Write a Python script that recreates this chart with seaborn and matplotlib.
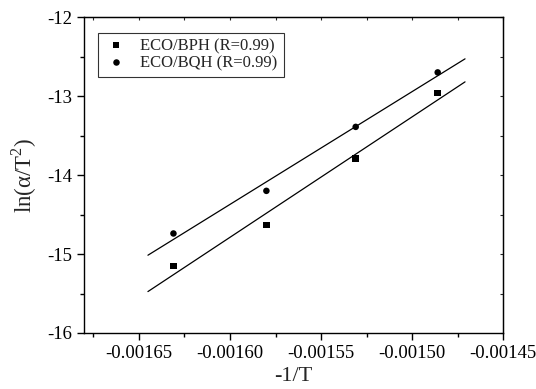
import numpy as np
import pandas as pd
import matplotlib
matplotlib.use("Agg")
import matplotlib.pyplot as plt
from matplotlib.ticker import MultipleLocator, FormatStrFormatter
import seaborn as sns

# data
inv_T = [-0.001631, -0.001580, -0.001531, -0.001486]
bph = [-15.15, -14.63, -13.79, -12.96]
bqh = [-14.74, -14.20, -13.39, -12.70]
labels = ["ECO/BPH (R=0.99)", "ECO/BQH (R=0.99)"]

df = pd.DataFrame({
    "x": inv_T * 2,
    "y": bph + bqh,
    "series": [labels[0]] * 4 + [labels[1]] * 4,
})

sns.set_style("ticks")
plt.rcParams["font.family"] = ["Liberation Serif", "DejaVu Serif"]
plt.rcParams["mathtext.fontset"] = "custom"
plt.rcParams["mathtext.rm"] = "Liberation Serif"
plt.rcParams["axes.unicode_minus"] = False

fig = plt.figure(figsize=(5.36, 3.89), dpi=100)
ax = fig.add_axes([0.157, 0.144, 0.782, 0.812])

sns.scatterplot(data=df, x="x", y="y", style="series", markers=["s", "o"],
                color="black", s=22, edgecolor="black", linewidth=0, ax=ax)

# linear fits
xfit = np.array([-0.001645, -0.001471])
for vals in (bph, bqh):
    k, b = np.polyfit(inv_T, vals, 1)
    ax.plot(xfit, k * xfit + b, color="black", lw=0.9)

ax.set_xlim(-0.00168, -0.00145)
ax.set_ylim(-16, -12)
ax.xaxis.set_major_locator(MultipleLocator(0.00005))
ax.xaxis.set_minor_locator(MultipleLocator(0.000025))
ax.xaxis.set_major_formatter(FormatStrFormatter("%.5f"))
ax.yaxis.set_major_locator(MultipleLocator(1))
ax.yaxis.set_minor_locator(MultipleLocator(0.5))

for s in ax.spines.values():
    s.set_linewidth(1.0)
    s.set_color("black")
ax.tick_params(which="both", direction="out", labelsize=13.5, colors="black",
               width=1.0)
ax.tick_params(which="major", length=5)
ax.tick_params(which="minor", length=3)

# small inward ticks on top and right
top = ax.secondary_xaxis("top")
top.xaxis.set_major_locator(MultipleLocator(0.00005))
top.xaxis.set_minor_locator(MultipleLocator(0.000025))
top.tick_params(which="both", direction="in", length=2, width=0.8,
                labeltop=False)
right = ax.secondary_yaxis("right")
right.yaxis.set_major_locator(MultipleLocator(1))
right.yaxis.set_minor_locator(MultipleLocator(0.5))
right.tick_params(which="both", direction="in", length=2, width=0.8,
                  labelright=False)

ax.set_xlabel("-1/T", fontsize=16, labelpad=4)
ax.set_ylabel(r"ln(α/T$^{2}$)", fontsize=16.5, labelpad=6)

ax.legend(loc="upper left", bbox_to_anchor=(0.033, 0.95), borderaxespad=0,
          frameon=True, fancybox=False, edgecolor="black", fontsize=12,
          title=None, handletextpad=0.7, borderpad=0.35, labelspacing=0.05,
          handlelength=1.5)
ax.get_legend().get_frame().set_linewidth(0.8)

fig.savefig("out.png", dpi=100)
